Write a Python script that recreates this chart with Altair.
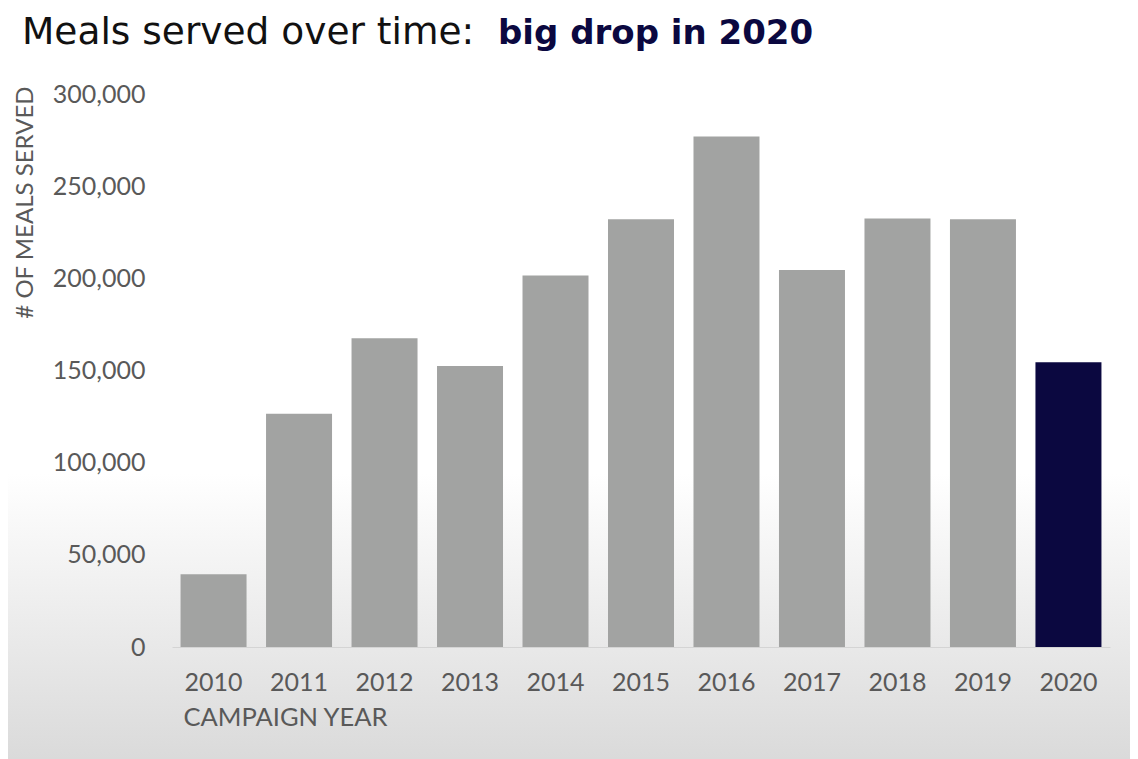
import altair as alt
import pandas as pd

# ---- data ----
years = ["2010", "2011", "2012", "2013", "2014", "2015",
         "2016", "2017", "2018", "2019", "2020"]
meals = [39500, 126500, 167500, 152500, 201500, 232000,
         277000, 204500, 232500, 232000, 154500]
highlight_year = "2020"
y_ticks = [0, 50000, 100000, 150000, 200000, 250000, 300000]

title_main = "Meals served over time:"
title_emph = "big drop in 2020"
y_title = "# OF MEALS SERVED"
x_title = "CAMPAIGN YEAR"

df = pd.DataFrame({"year": years, "meals": meals})
main_df = pd.DataFrame({"t": [title_main]})
emph_df = pd.DataFrame({"t": [title_emph]})
bg_df = pd.DataFrame({"k": [0]})

FONT = "Lato"
TITLE_FONT = "DejaVu Sans"
TEXT_GREY = "#595959"
BAR_GREY = "#a2a3a2"
NAVY = "#0b0840"

# soft grey fade behind the lower part of the slide
background = alt.Chart(bg_df).mark_rect(
    color=alt.Gradient(
        gradient="linear",
        stops=[alt.GradientStop(color="#ffffff", offset=0),
               alt.GradientStop(color="#dadada", offset=1)],
        x1=0, x2=0, y1=0, y2=1,
    )
).encode(
    x=alt.value(-164), x2=alt.value(958),
    y=alt.value(380), y2=alt.value(665),
)

bars = alt.Chart(df).mark_bar().encode(
    x=alt.X(
        "year:N",
        sort=years,
        scale=alt.Scale(paddingInner=0.228, paddingOuter=0.1),
        axis=alt.Axis(
            title=x_title,
            zindex=1,
            labelAngle=0,
            labelFont=FONT,
            labelFontSize=25,
            labelColor=TEXT_GREY,
            labelPadding=23,
            ticks=False,
            domain=True,
            domainColor="#d4d4d4",
            domainWidth=1,
            titleX=11,
            titleY=70,
            titleAlign="left",
            titleBaseline="middle",
            titleFont=FONT,
            titleFontSize=25.5,
            titleFontWeight="normal",
            titleColor=TEXT_GREY,
        ),
    ),
    y=alt.Y(
        "meals:Q",
        scale=alt.Scale(domain=[0, 300000], nice=False),
        axis=alt.Axis(
            values=y_ticks,
            format=",d",
            zindex=1,
            grid=False,
            ticks=False,
            domain=False,
            labelFont=FONT,
            labelFontSize=25,
            labelColor=TEXT_GREY,
            labelPadding=27,
            title=y_title,
            titleFont=FONT,
            titleFontSize=24,
            titleFontWeight="normal",
            titleColor=TEXT_GREY,
            titleAngle=270,
            titleX=-147,
            titleY=-8,
            titleAlign="right",
            titleBaseline="middle",
        ),
    ),
    color=alt.condition(
        alt.datum.year == highlight_year, alt.value(NAVY), alt.value(BAR_GREY)
    ),
)

main_title = alt.Chart(main_df).mark_text(
    font=TITLE_FONT, fontSize=37.5, fontWeight="normal", color="#111111",
    align="left", baseline="alphabetic",
).encode(text="t:N", x=alt.value(-150), y=alt.value(-50))

emph_title = alt.Chart(emph_df).mark_text(
    font=TITLE_FONT, fontSize=34, fontWeight="bold", color=NAVY,
    align="left", baseline="alphabetic",
).encode(text="t:N", x=alt.value(326), y=alt.value(-50))

chart = alt.layer(background, bars, main_title, emph_title).properties(
    width=938,
    height=553,
    autosize=alt.AutoSizeParams(type="none"),
    padding={"left": 164, "top": 86, "right": 20, "bottom": 112},
).configure(background="white").configure_view(stroke=None)

chart.save("out.html", embed_options={"renderer": "svg", "actions": False})
